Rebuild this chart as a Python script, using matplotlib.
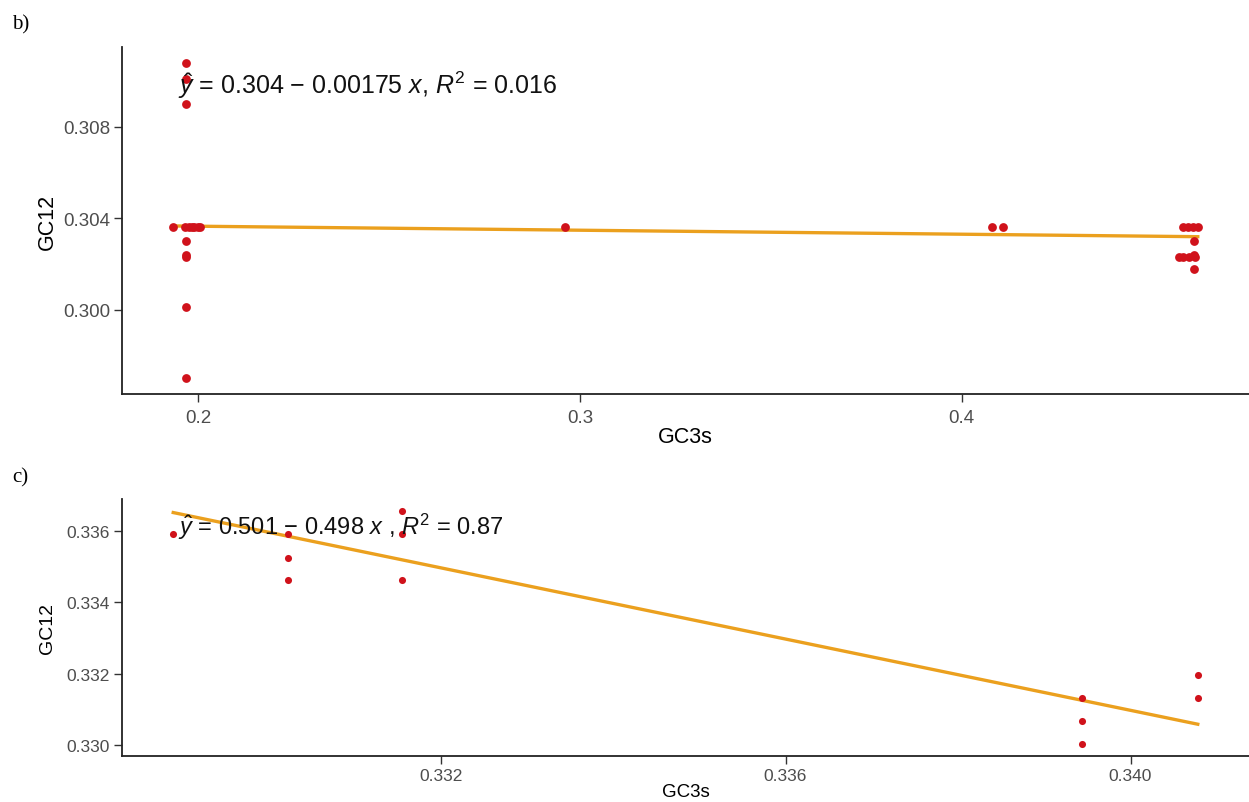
import matplotlib
matplotlib.use("Agg")
import matplotlib.pyplot as plt
import numpy as np

plt.rcParams['font.family'] = ['Liberation Sans', 'DejaVu Sans']
plt.rcParams['mathtext.fontset'] = 'custom'
plt.rcParams['mathtext.rm'] = 'Liberation Sans'
plt.rcParams['mathtext.it'] = 'Liberation Sans:italic'

# panel b data (GC3s vs GC12)
b_gc3s = [0.1935, 0.1966, 0.1975, 0.1985, 0.1990, 0.2000, 0.2005,
          0.1968, 0.1968, 0.1968, 0.1968, 0.1968, 0.1968, 0.1968, 0.1968,
          0.2962, 0.4078, 0.4109,
          0.4579, 0.4592, 0.4605, 0.4618, 0.4608, 0.4568, 0.4580, 0.4595,
          0.4610, 0.4608, 0.4608]
b_gc12 = [0.3036, 0.3036, 0.3036, 0.3036, 0.3036, 0.3036, 0.3036,
          0.3108, 0.3101, 0.3090, 0.3030, 0.3024, 0.3023, 0.3001, 0.2970,
          0.3036, 0.3036, 0.3036,
          0.3036, 0.3036, 0.3036, 0.3036, 0.3030, 0.3023, 0.3023, 0.3023,
          0.3023, 0.3024, 0.3018]
b_fit = (0.304, -0.00175)   # intercept, slope from the annotation
b_xticks = [0.2, 0.3, 0.4]
b_xlabels = ["0.2", "0.3", "0.4"]
b_yticks = [0.300, 0.304, 0.308]
b_ylabels = ["0.300", "0.304", "0.308"]
b_eq = r"$\hat{y}$ = 0.304 − 0.00175 $x$, $R^2$ = 0.016"

# panel c data
c_gc3s = [0.3289, 0.33023, 0.33023, 0.33023, 0.33155, 0.33155, 0.33155,
          0.33944, 0.33944, 0.33944, 0.34078, 0.34078]
c_gc12 = [0.3359, 0.3359, 0.33525, 0.33461, 0.33656, 0.3359, 0.33461,
          0.33133, 0.33069, 0.33003, 0.33197, 0.33133]
c_fit = (0.5003, -0.498)
c_xticks = [0.332, 0.336, 0.340]
c_xlabels = ["0.332", "0.336", "0.340"]
c_yticks = [0.330, 0.332, 0.334, 0.336]
c_ylabels = ["0.330", "0.332", "0.334", "0.336"]
c_eq = r"$\hat{y}$ = 0.501 − 0.498 $x$ , $R^2$ = 0.87"

W, H = 1249, 803
fig = plt.figure(figsize=(W / 100, H / 100), dpi=100)


def px_axes(left, top, right, bottom):
    return fig.add_axes([left / W, 1 - bottom / H, (right - left) / W, (bottom - top) / H])


def style(ax, xs, ys, xt, xl, yt, yl, tsize):
    xr = max(xs) - min(xs)
    yr = max(ys) - min(ys)
    ax.set_xlim(min(xs) - 0.05 * xr, max(xs) + 0.05 * xr)
    ax.set_ylim(min(ys) - 0.05 * yr, max(ys) + 0.05 * yr)
    ax.set_xticks(xt)
    ax.set_xticklabels(xl)
    ax.set_yticks(yt)
    ax.set_yticklabels(yl)
    for s in ["top", "right"]:
        ax.spines[s].set_visible(False)
    for s in ["left", "bottom"]:
        ax.spines[s].set_linewidth(1.3)
        ax.spines[s].set_color("#222222")
    ax.tick_params(colors="#333333", labelcolor="#4D4D4D", labelsize=tsize,
                   length=5.5, width=1.0, pad=3)


def panel(ax, xs, ys, fit, msize):
    xx = np.array([min(xs), max(xs)])
    ax.plot(xx, fit[0] + fit[1] * xx, color="#EBA01E", lw=2.4, zorder=2)
    ax.scatter(xs, ys, s=msize, color="#D0121B", zorder=3, linewidths=0)


# panel b
axb = px_axes(122, 48, 1249, 395)
panel(axb, b_gc3s, b_gc12, b_fit, 40)
style(axb, b_gc3s, b_gc12, b_xticks, b_xlabels, b_yticks, b_ylabels, 13.5)
axb.tick_params(axis="x", pad=5)
axb.set_xlabel("GC3s", fontsize=15.5, labelpad=0)
axb.set_ylabel("GC12", fontsize=15.5, labelpad=4)
axb.text(178 / W, 1 - 85 / H, b_eq, transform=fig.transFigure, fontsize=18,
         va="center", ha="left", color="#111111")

# panel c
axc = px_axes(122, 500, 1249, 757)
panel(axc, c_gc3s, c_gc12, c_fit, 26)
style(axc, c_gc3s, c_gc12, c_xticks, c_xlabels, c_yticks, c_ylabels, 12.5)
axc.set_xlabel("GC3s", fontsize=13.5, labelpad=0)
axc.set_ylabel("GC12", fontsize=14, labelpad=8)
axc.text(178 / W, 1 - 527 / H, c_eq, transform=fig.transFigure, fontsize=17,
         va="center", ha="left", color="#111111")

fig.text(12 / W, 1 - 25 / H, "b)", fontsize=15, family="Liberation Serif",
         va="center", ha="left")
fig.text(12 / W, 1 - 478 / H, "c)", fontsize=15, family="Liberation Serif",
         va="center", ha="left")

fig.savefig("out.png", dpi=100, facecolor="white")
